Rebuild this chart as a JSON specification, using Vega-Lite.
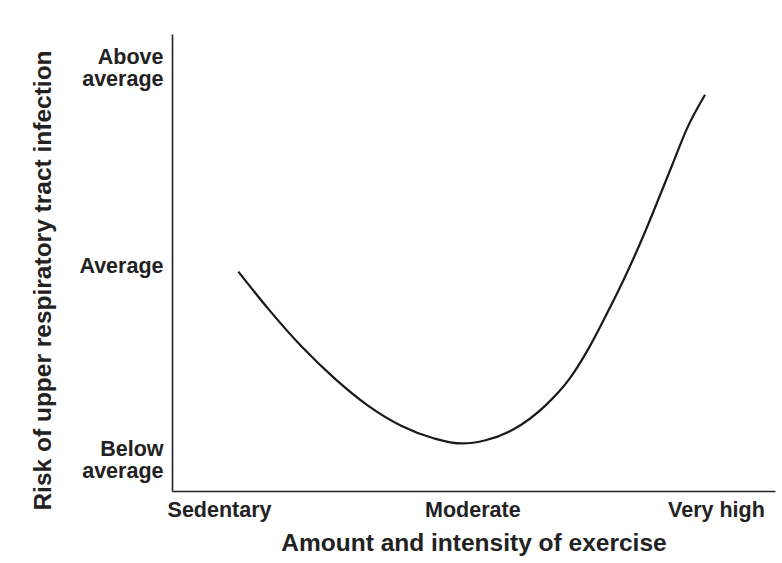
{
  "$schema": "https://vega.github.io/schema/vega-lite/v6.json",
  "width": 603,
  "height": 457,
  "autosize": "none",
  "padding": {"left": 172, "top": 34, "right": 7, "bottom": 72},
  "background": "white",
  "config": {
    "font": "Liberation Sans",
    "view": {"stroke": null},
    "axis": {"grid": false, "ticks": false, "domainColor": "#222", "domainWidth": 1.6, "labelColor": "#222", "titleColor": "#222", "labelFont": "Liberation Sans", "titleFont": "Liberation Sans", "labelFontWeight": "bold", "titleFontWeight": "bold"}
  },
  "data": {
    "values": [
      {"exercise": 11.0, "risk": 48.0},
      {"exercise": 16.0, "risk": 39.8},
      {"exercise": 21.5, "risk": 31.6},
      {"exercise": 27.0, "risk": 24.6},
      {"exercise": 32.5, "risk": 18.7},
      {"exercise": 38.0, "risk": 14.3},
      {"exercise": 43.5, "risk": 11.5},
      {"exercise": 48.0, "risk": 10.4},
      {"exercise": 52.0, "risk": 11.1},
      {"exercise": 56.5, "risk": 13.4},
      {"exercise": 62.0, "risk": 18.8},
      {"exercise": 66.0, "risk": 24.7},
      {"exercise": 69.0, "risk": 31.0},
      {"exercise": 72.0, "risk": 38.5},
      {"exercise": 75.0, "risk": 46.5},
      {"exercise": 78.0, "risk": 55.3},
      {"exercise": 80.5, "risk": 63.3},
      {"exercise": 83.0, "risk": 71.5},
      {"exercise": 85.4, "risk": 79.3},
      {"exercise": 88.4, "risk": 86.7}
    ]
  },
  "mark": {"type": "line", "interpolate": "monotone", "color": "#1a1a1a", "strokeWidth": 2.2},
  "encoding": {
    "x": {
      "field": "exercise",
      "type": "quantitative",
      "scale": {"domain": [0, 100], "nice": false, "zero": false},
      "axis": {
        "title": "Amount and intensity of exercise",
        "titleFontSize": 24.5,
        "titlePadding": 11,
        "values": [7.8, 49.8, 90.2],
        "labelExpr": "datum.value == 7.8 ? 'Sedentary' : datum.value == 49.8 ? 'Moderate' : 'Very high'",
        "labelFontSize": 21.5,
        "labelPadding": 8,
        "labelFlush": false,
        "labelOverlap": false
      }
    },
    "y": {
      "field": "risk",
      "type": "quantitative",
      "scale": {"domain": [0, 100], "nice": false, "zero": false},
      "axis": {
        "title": "Risk of upper respiratory tract infection",
        "titleFontSize": 24.5,
        "titlePadding": 23,
        "titleY": 246,
        "values": [9.1, 49.2, 94.75],
        "labelExpr": "datum.value == 94.75 ? ['Above', 'average'] : datum.value == 49.2 ? 'Average' : ['Below', 'average']",
        "labelFontSize": 21.5,
        "labelLineHeight": 22,
        "labelPadding": 9,
        "labelFlush": false,
        "labelOverlap": false
      }
    }
  }
}
